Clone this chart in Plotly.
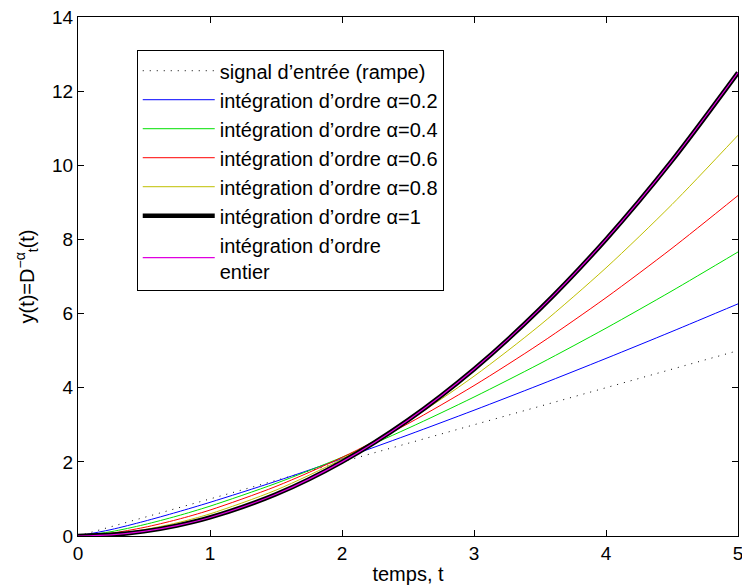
import plotly.graph_objects as go

# Sample instants (s)
t = [0, 0.25, 0.5, 0.75, 1, 1.5, 2, 2.5, 3, 3.5, 4, 4.5, 5]

# Input ramp
ramp = [0, 0.25, 0.5, 0.75, 1, 1.5, 2, 2.5, 3, 3.5, 4, 4.5, 5]

# Fractional integrals of the ramp for each order alpha
y_a02 = [0, 0.172, 0.395, 0.643, 0.908, 1.476, 2.085, 2.726, 3.392, 4.081, 4.790, 5.517, 6.262]
y_a04 = [0, 0.116, 0.305, 0.538, 0.805, 1.420, 2.124, 2.904, 3.748, 4.651, 5.606, 6.612, 7.662]
y_a06 = [0, 0.076, 0.231, 0.442, 0.700, 1.338, 2.120, 3.030, 4.057, 5.192, 6.428, 7.762, 9.184]
y_a08 = [0, 0.049, 0.171, 0.355, 0.597, 1.238, 2.077, 3.104, 4.310, 5.687, 7.233, 8.943, 10.81]
y_a10 = [0, 0.031, 0.125, 0.281, 0.5, 1.125, 2.0, 3.125, 4.5, 6.125, 8.0, 10.125, 12.5]
# Integer-order integration (same curve as alpha = 1)
y_int = [0, 0.031, 0.125, 0.281, 0.5, 1.125, 2.0, 3.125, 4.5, 6.125, 8.0, 10.125, 12.5]

names = [
    "signal d\u2019entrée (rampe)",
    "intégration d\u2019ordre \u03b1=0.2",
    "intégration d\u2019ordre \u03b1=0.4",
    "intégration d\u2019ordre \u03b1=0.6",
    "intégration d\u2019ordre \u03b1=0.8",
    "intégration d\u2019ordre \u03b1=1",
    "intégration d\u2019ordre<br>entier",
]

series = [ramp, y_a02, y_a04, y_a06, y_a08, y_a10, y_int]
colors = ["black", "#0000ff", "#00e000", "#ff0000", "#bfbf00", "black", "#e000e0"]
widths = [1, 1, 1, 1, 1, 4.5, 1.2]
dashes = ["1px,6px", "solid", "solid", "solid", "solid", "solid", "solid"]

fig = go.Figure()
for i, (name, ys, c, w, d) in enumerate(zip(names, series, colors, widths, dashes)):
    fig.add_trace(go.Scatter(
        x=t, y=ys, mode="lines", name=name,
        line=dict(color=c, width=w, dash=d, shape="spline" if i else "linear", smoothing=0.8),
        legendgroup=f"g{i}",
    ))

family = "Liberation Sans, Arial, sans-serif"
tick_font = dict(family=family, size=19, color="black")
title_font = dict(family=family, size=20, color="black")

fig.update_layout(
    width=742, height=585,
    margin=dict(l=78, r=4, t=17, b=49),
    paper_bgcolor="white", plot_bgcolor="white",
    font=tick_font,
    showlegend=True,
    legend=dict(
        x=0.089, y=0.936, xanchor="left", yanchor="top",
        bgcolor="white", bordercolor="black", borderwidth=1,
        font=dict(family=family, size=20, color="black"),
        tracegroupgap=0, itemwidth=72,
    ),
    xaxis=dict(
        range=[0, 5], tickvals=[0, 1, 2, 3, 4, 5],
        showline=True, linecolor="black", linewidth=1, mirror="ticks",
        ticks="inside", ticklen=6, tickcolor="black",
        showgrid=False, zeroline=False, automargin=False,
        tickfont=tick_font, ticklabeloverflow="allow",
        title=dict(text="temps, t", standoff=8, font=title_font),
    ),
    yaxis=dict(
        range=[0, 14], tickvals=[0, 2, 4, 6, 8, 10, 12, 14],
        showline=True, linecolor="black", linewidth=1, mirror="ticks",
        ticks="inside", ticklen=6, tickcolor="black",
        showgrid=False, zeroline=False, automargin=False,
        tickfont=tick_font, ticklabeloverflow="allow",
        title=dict(text="y(t)=D<sup>\u2212\u03b1</sup><sub>t</sub>(t)", standoff=12, font=title_font),
    ),
)

fig.write_html("out.html")
